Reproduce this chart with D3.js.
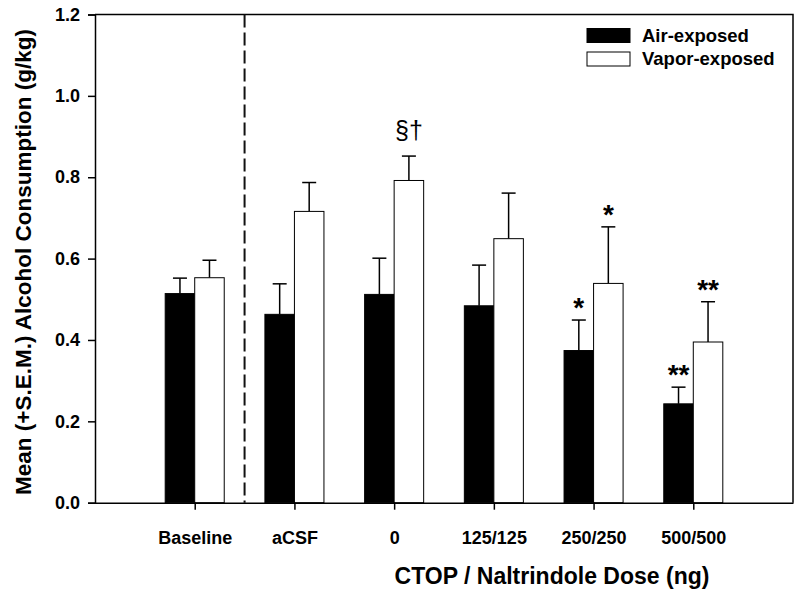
<!DOCTYPE html>
<html>
<head>
<meta charset="utf-8">
<script src="https://cdn.jsdelivr.net/npm/d3@7"></script>
<style>
  html, body { margin: 0; padding: 0; background: #fff; }
  svg { display: block; font-family: "Liberation Sans", Arial, sans-serif; }
</style>
</head>
<body>
<svg id="chart" width="800" height="592"></svg>
<script>
// ---- data ----
const categories = ["Baseline", "aCSF", "0", "125/125", "250/250", "500/500"];
const airMeans   = [0.514, 0.463, 0.512, 0.484, 0.374, 0.243];
const airSEM     = [0.038, 0.075, 0.089, 0.100, 0.075, 0.041];
const vaporMeans = [0.553, 0.716, 0.792, 0.649, 0.539, 0.395];
const vaporSEM   = [0.043, 0.071, 0.060, 0.112, 0.139, 0.099];
const yTicks     = [0.0, 0.2, 0.4, 0.6, 0.8, 1.0, 1.2];
const seriesNames = ["Air-exposed", "Vapor-exposed"];
const annotations = [
  { cat: "0",       series: 1, text: "§†" },
  { cat: "250/250", series: 0, text: "*" },
  { cat: "250/250", series: 1, text: "*" },
  { cat: "500/500", series: 0, text: "**" },
  { cat: "500/500", series: 1, text: "**" }
];

// ---- layout ----
const svg = d3.select("#chart");
const pLeft = 95, pRight = 793, pTop = 14.5, pBottom = 502.7;
const x = d3.scaleLinear().domain([0, categories.length + 1]).range([pLeft, pRight]);
const y = d3.scaleLinear().domain([0, 1.2]).range([pBottom, pTop]);
const barW = 0.296; // in category units
const fills = ["#000", "#fff"];
const series = [
  { name: seriesNames[0], means: airMeans, sem: airSEM },
  { name: seriesNames[1], means: vaporMeans, sem: vaporSEM }
];

// frame (top and right)
svg.append("path")
  .attr("d", `M${pLeft},${pTop}H${pRight}V${pBottom}`)
  .attr("fill", "none").attr("stroke", "#000").attr("stroke-width", 1.5);

// dashed separator
svg.append("line")
  .attr("x1", x(1.5)).attr("x2", x(1.5))
  .attr("y1", pTop).attr("y2", pBottom)
  .attr("stroke", "#111").attr("stroke-width", 2)
  .attr("stroke-dasharray", "13,5");

// bars
series.forEach((s, si) => {
  const g = svg.append("g");
  categories.forEach((c, i) => {
    const cx = i + 1;
    const x0 = si === 0 ? x(cx - barW) : x(cx);
    const x1 = si === 0 ? x(cx) : x(cx + barW);
    const xm = (x0 + x1) / 2;
    g.append("line")
      .attr("x1", xm).attr("x2", xm)
      .attr("y1", y(s.means[i])).attr("y2", y(s.means[i] + s.sem[i]))
      .attr("stroke", "#000").attr("stroke-width", 1.5);
    g.append("line")
      .attr("x1", xm - 7).attr("x2", xm + 7)
      .attr("y1", y(s.means[i] + s.sem[i])).attr("y2", y(s.means[i] + s.sem[i]))
      .attr("stroke", "#000").attr("stroke-width", 1.5);
    g.append("rect")
      .attr("x", x0).attr("y", y(s.means[i]))
      .attr("width", x1 - x0).attr("height", y(0) - y(s.means[i]))
      .attr("fill", fills[si]).attr("stroke", "#000").attr("stroke-width", 1);
  });
});

// annotations
annotations.forEach(a => {
  const i = categories.indexOf(a.cat);
  const s = series[a.series];
  const cx = i + 1;
  const xm = a.series === 0 ? x(cx - barW / 2) : x(cx + barW / 2);
  const isSym = a.text !== "*" && a.text !== "**";
  svg.append("text")
    .attr("x", xm)
    .attr("y", y(s.means[i] + s.sem[i]) - (isSym ? 17 : 3))
    .attr("text-anchor", "middle")
    .attr("font-size", isSym ? 25 : 28)
    .attr("font-weight", isSym ? "normal" : "bold")
    .attr("fill", "#000")
    .text(a.text);
});

// y axis
const yAxis = d3.axisLeft(y).tickValues(yTicks).tickFormat(d3.format(".1f")).tickSize(7).tickPadding(8);
const gy = svg.append("g").attr("transform", `translate(${pLeft},0)`).call(yAxis);
gy.select(".domain").attr("stroke-width", 1.5);
gy.selectAll(".tick line").attr("stroke-width", 1.5);
gy.selectAll("text").attr("font-size", 18).attr("font-weight", "bold")
  .attr("font-family", "Liberation Sans, Arial, sans-serif").attr("fill", "#000");

// x axis
const xAxis = d3.axisBottom(x).tickValues(categories.map((c, i) => i + 1))
  .tickFormat((d) => categories[d - 1]).tickSize(7).tickSizeOuter(0).tickPadding(22);
const gx = svg.append("g").attr("transform", `translate(0,${pBottom})`).call(xAxis);
gx.select(".domain").attr("stroke-width", 1.5);
gx.selectAll(".tick line").attr("stroke-width", 1.5);
gx.selectAll("text").attr("font-size", 18).attr("font-weight", "bold")
  .attr("font-family", "Liberation Sans, Arial, sans-serif").attr("fill", "#000");

// axis titles
svg.append("text")
  .attr("transform", `translate(31,262) rotate(-90)`)
  .attr("text-anchor", "middle")
  .attr("font-size", 22.5).attr("font-weight", "bold")
  .text("Mean (+S.E.M.) Alcohol Consumption (g/kg)");
svg.append("text")
  .attr("x", 552).attr("y", 584)
  .attr("text-anchor", "middle")
  .attr("font-size", 23).attr("font-weight", "bold")
  .text("CTOP / Naltrindole Dose (ng)");

// legend
const legend = svg.append("g");
series.forEach((s, si) => {
  legend.append("rect")
    .attr("x", 587).attr("y", 28.5 + si * 23.5)
    .attr("width", 43).attr("height", 14)
    .attr("fill", fills[si]).attr("stroke", "#000").attr("stroke-width", 1);
  legend.append("text")
    .attr("x", 642).attr("y", 41.7 + si * 23.5)
    .attr("font-size", 18.5).attr("font-weight", "bold")
    .text(s.name);
});
</script>
</body>
</html>
